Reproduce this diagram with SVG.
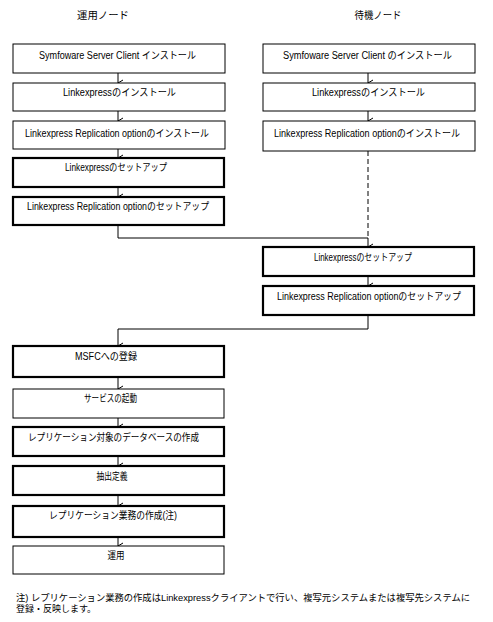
<svg xmlns="http://www.w3.org/2000/svg" width="493" height="622" viewBox="0 0 493 622">
<defs>
<style>
text{font-family:"Liberation Sans","Noto Sans CJK JP",sans-serif;font-size:10px;fill:#000}
.t{text-anchor:middle}
.n{font-size:9.5px}
.thin{fill:#fff;stroke:#000;stroke-width:1}
.thick{fill:#fff;stroke:#000;stroke-width:2.2}
.ln{fill:none;stroke:#000;stroke-width:1}
.dash{fill:none;stroke:#000;stroke-width:1;stroke-dasharray:5,3}
</style>
<marker id="ah" markerWidth="8" markerHeight="8" refX="4" refY="6" orient="auto" markerUnits="userSpaceOnUse" viewBox="0 0 8 8">
<path d="M1,1 L4,6 L7,1" fill="none" stroke="#000" stroke-width="1"/>
</marker>
</defs>
<g id="headers">
<text x="103" y="19" class="t" textLength="52" lengthAdjust="spacingAndGlyphs">運用ノード</text>
<text x="378" y="19" class="t" textLength="47" lengthAdjust="spacingAndGlyphs">待機ノード</text>
</g>
<g id="connectors">
<line class="ln" x1="118" y1="73" x2="118" y2="83" marker-end="url(#ah)"/>
<line class="ln" x1="118" y1="111" x2="118" y2="121" marker-end="url(#ah)"/>
<line class="ln" x1="118" y1="149" x2="118" y2="158" marker-end="url(#ah)"/>
<line class="ln" x1="118" y1="187" x2="118" y2="197" marker-end="url(#ah)"/>
<line class="ln" x1="368" y1="73" x2="368" y2="83" marker-end="url(#ah)"/>
<line class="ln" x1="368" y1="111" x2="368" y2="121" marker-end="url(#ah)"/>
<line class="dash" x1="368" y1="151" x2="368" y2="238"/>
<polyline class="ln" points="118,226 118,238 368,238 368,247" marker-end="url(#ah)"/>
<line class="ln" x1="368" y1="276" x2="368" y2="286" marker-end="url(#ah)"/>
<polyline class="ln" points="368,315 368,329 118,329 118,346" marker-end="url(#ah)"/>
<line class="ln" x1="118" y1="377" x2="118" y2="389" marker-end="url(#ah)"/>
<line class="ln" x1="118" y1="418" x2="118" y2="427" marker-end="url(#ah)"/>
<line class="ln" x1="118" y1="456" x2="118" y2="466" marker-end="url(#ah)"/>
<line class="ln" x1="118" y1="495" x2="118" y2="506" marker-end="url(#ah)"/>
<line class="ln" x1="118" y1="537" x2="118" y2="546" marker-end="url(#ah)"/>
</g>
<g id="L1"><rect class="thin" x="13" y="44" width="212" height="29"/><text x="117.5" y="59" class="t" textLength="157" lengthAdjust="spacingAndGlyphs">Symfoware Server Client  インストール</text></g>
<g id="L2"><rect class="thin" x="13" y="83" width="212" height="28"/><text x="119.5" y="96" class="t" textLength="113" lengthAdjust="spacingAndGlyphs">Linkexpressのインストール</text></g>
<g id="L3"><rect class="thin" x="13" y="121" width="212" height="28"/><text x="117" y="137" class="t" textLength="184" lengthAdjust="spacingAndGlyphs">Linkexpress Replication optionのインストール</text></g>
<g id="L4"><rect class="thick" x="13" y="158" width="211" height="29"/><text x="116" y="171" class="t" textLength="102" lengthAdjust="spacingAndGlyphs">Linkexpressのセットアップ</text></g>
<g id="L5"><rect class="thick" x="13" y="197" width="211" height="28"/><text x="118" y="210" class="t" textLength="182" lengthAdjust="spacingAndGlyphs">Linkexpress Replication optionのセットアップ</text></g>
<g id="R1"><rect class="thin" x="263" y="44" width="212" height="29"/><text x="367.5" y="59" class="t" textLength="169" lengthAdjust="spacingAndGlyphs">Symfoware Server Client  のインストール</text></g>
<g id="R2"><rect class="thin" x="263" y="83" width="212" height="28"/><text x="368.5" y="96" class="t" textLength="113" lengthAdjust="spacingAndGlyphs">Linkexpressのインストール</text></g>
<g id="R3"><rect class="thin" x="263" y="121" width="212" height="30"/><text x="367" y="137" class="t" textLength="186" lengthAdjust="spacingAndGlyphs">Linkexpress Replication optionのインストール</text></g>
<g id="R4"><rect class="thick" x="263" y="247" width="211" height="29"/><text x="363" y="261" class="t" textLength="98" lengthAdjust="spacingAndGlyphs">Linkexpressのセットアップ</text></g>
<g id="R5"><rect class="thick" x="263" y="286" width="211" height="29"/><text x="369" y="300" class="t" textLength="184" lengthAdjust="spacingAndGlyphs">Linkexpress Replication optionのセットアップ</text></g>
<g id="L6"><rect class="thick" x="13" y="346" width="211" height="31"/><text x="106" y="360" class="t" textLength="62" lengthAdjust="spacingAndGlyphs">MSFCへの登録</text></g>
<g id="L7"><rect class="thin" x="13" y="389" width="211" height="29"/><text x="110.5" y="402" class="t" textLength="53" lengthAdjust="spacingAndGlyphs">サービスの起動</text></g>
<g id="L8"><rect class="thick" x="13" y="427" width="211" height="29"/><text x="113.5" y="441" class="t" textLength="171" lengthAdjust="spacingAndGlyphs">レプリケーション対象のデータベースの作成</text></g>
<g id="L9"><rect class="thick" x="13" y="466" width="211" height="29"/><text x="112" y="480" class="t" textLength="31" lengthAdjust="spacingAndGlyphs">抽出定義</text></g>
<g id="L10"><rect class="thick" x="13" y="506" width="211" height="31"/><text x="113" y="519" class="t" textLength="128" lengthAdjust="spacingAndGlyphs">レプリケーション業務の作成(注)</text></g>
<g id="L11"><rect class="thin" x="13" y="546" width="211" height="28"/><text x="116" y="559" class="t" textLength="17" lengthAdjust="spacingAndGlyphs">運用</text></g>
<g id="note">
<text x="16" y="601" class="n" textLength="454" lengthAdjust="spacingAndGlyphs">注) レプリケーション業務の作成はLinkexpressクライアントで行い、複写元システムまたは複写先システムに</text>
<text x="16" y="612" class="n" textLength="80" lengthAdjust="spacingAndGlyphs">登録・反映します。</text>
</g>
</svg>
